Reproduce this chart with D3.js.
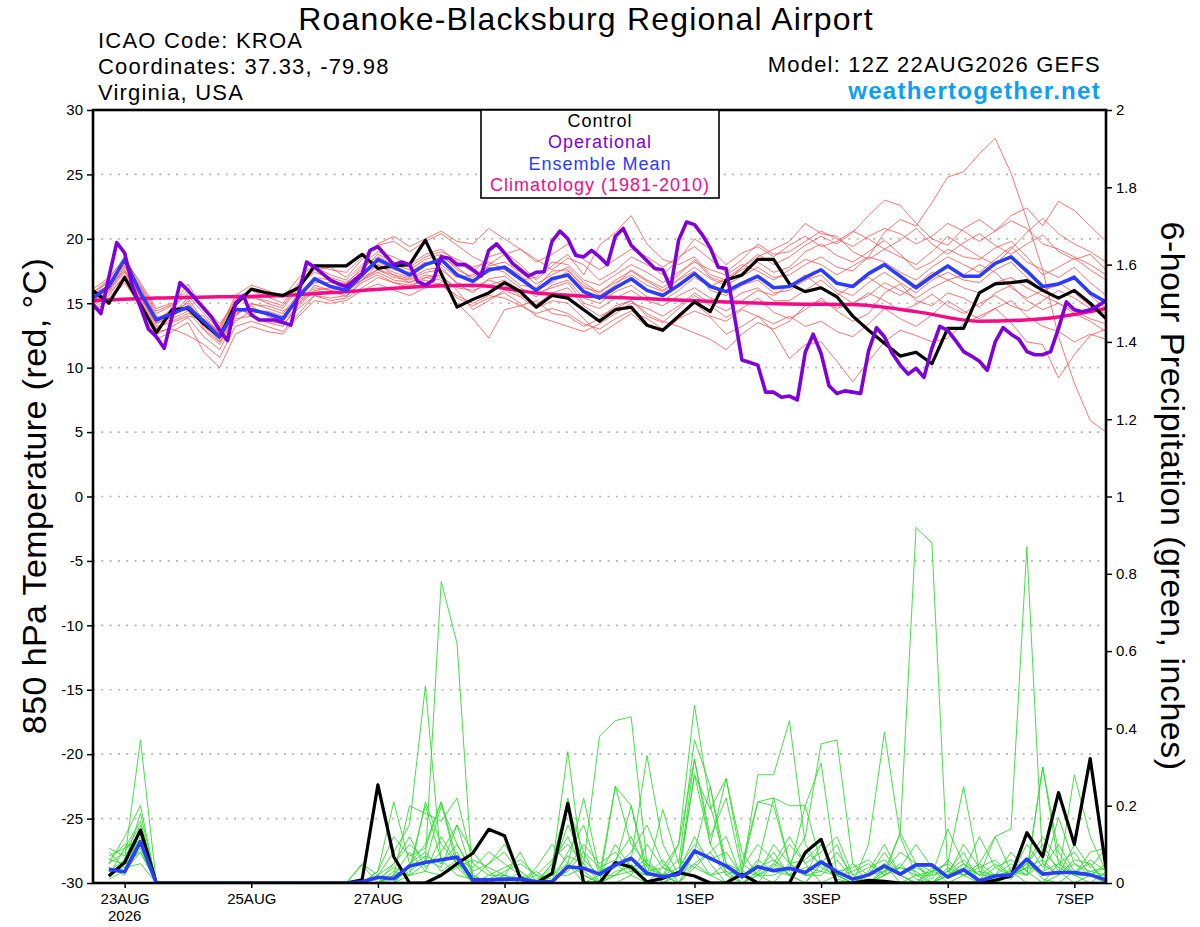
<!DOCTYPE html>
<html>
<head>
<meta charset="utf-8">
<script src="https://cdn.jsdelivr.net/npm/d3@7"></script>
<style>
  body { margin: 0; background: #fff; }
  svg { display: block; }
  text { font-family: "Liberation Sans", Arial, Helvetica, sans-serif; }
</style>
</head>
<body>
<svg id="chart" width="1200" height="927"></svg>
<script>
// ---- data ----
const runStart = Date.UTC(2026, 7, 22, 12);          // 12Z 22AUG2026
const ensHours = d3.range(0, 385, 6);                 // 6-hourly members
const opHours = d3.range(0, 385, 3);                  // 3-hourly operational
const precipHours = d3.range(6, 385, 6);              // 6-h totals
const climHours = d3.range(0, 385, 24);

const tempTicks = [30, 25, 20, 15, 10, 5, 0, -5, -10, -15, -20, -25, -30];
const tempGrid = [25, 20, 15, 10, 5, 0, -5, -10, -15, -20, -25];
const precipTicks = [0, 0.2, 0.4, 0.6, 0.8, 1, 1.2, 1.4, 1.6, 1.8, 2];
const dayTicks = ["2026-08-23", "2026-08-25", "2026-08-27", "2026-08-29",
                  "2026-09-01", "2026-09-03", "2026-09-05", "2026-09-07"];

const legendItems = ["Control", "Operational", "Ensemble Mean", "Climatology (1981-2010)"];

// 850 hPa temperature, control run
const controlTemp = [16.0,15.0,17.0,14.9,12.7,14.5,14.6,13.4,12.4,14.9,16.1,
  15.8,15.6,16.2,17.9,17.9,17.9,18.8,17.7,17.9,18.0,19.9,
  17.3,14.7,15.3,15.8,16.6,15.9,14.7,15.6,15.4,14.5,13.6,
  14.5,14.7,13.3,12.9,14.0,15.1,14.35,16.8,17.2,18.4,18.4,
  16.5,15.9,16.2,15.5,14.0,12.9,11.9,10.9,11.2,10.3,13.05,
  13.05,15.8,16.5,16.6,16.75,16.0,15.4,16.0,15.0,13.8];

// ensemble mean
const meanTemp = [15.4,16.3,18.4,15.8,13.7,14.2,14.7,13.6,12.4,14.5,14.5,
  14.2,13.8,15.5,16.9,16.3,16.0,17.2,18.4,17.8,17.2,18.0,
  18.4,17.2,16.7,17.6,17.8,16.9,16.0,16.9,17.2,15.9,15.4,
  16.2,16.9,16.0,15.6,16.4,17.3,16.3,15.9,16.55,17.1,16.2,
  16.3,17.0,17.6,16.55,16.3,17.3,18.0,17.1,16.2,17.1,17.9,
  17.1,17.1,18.1,18.6,17.5,16.3,16.5,17.0,15.8,15.1];

// operational run (3-hourly)
const opTemp = [14.9,14.2,17.0,19.7,18.9,16.3,14.7,13.0,12.4,11.5,
  14.0,16.6,16.0,15.3,14.6,13.9,12.9,12.1,15.0,15.6,
  14.1,13.7,13.7,13.7,13.5,13.3,15.8,18.2,17.8,17.3,
  16.8,16.5,16.3,16.8,17.3,19.1,19.4,18.7,18.0,18.2,
  18.0,16.7,16.4,16.8,18.6,18.5,18.0,18.0,17.6,17.1,
  19.1,19.6,18.9,18.1,17.6,17.1,17.4,17.45,19.8,20.6,
  20.0,18.7,18.6,19.1,18.6,18.0,20.2,20.8,19.5,18.9,
  18.3,17.7,17.6,16.2,19.9,21.3,21.1,20.3,19.3,17.8,
  17.7,14.2,10.6,10.4,10.2,8.1,8.1,7.7,7.8,7.5,
  11.2,12.6,11.1,8.6,8.0,8.2,8.1,8.0,11.3,13.1,
  12.4,11.1,10.2,9.5,9.95,9.25,11.5,13.2,12.9,12.1,
  11.25,10.9,10.5,9.8,12.0,13.1,12.6,12.2,11.25,11.0,
  11.0,11.25,13.05,15.1,14.5,14.35,14.5,14.8,15.2];

// 1981-2010 climatology (daily)
const climTemp = [15.2,15.4,15.5,15.6,15.9,16.25,16.4,15.8,15.5,15.3,15.1,14.95,14.9,14.35,13.6,13.8,14.6];

// ensemble members, temperature
const tempMembers = [
  [15.6,16.8,18.2,16.0,13.5,13.9,15.2,13.0,12.0,14.0,15.0, 14.6,14.2,15.8,17.0,16.8,16.5,17.8,18.6,18.0,17.6,18.4,
   18.8,17.6,17.0,17.9,18.2,17.4,16.5,17.2,17.8,16.6,15.8, 16.8,17.5,16.7,16.0,16.9,17.8,16.9,16.4,17.1,17.8,17.0,
   17.2,18.0,18.6,17.8,17.5,18.6,20.5,21.5,21.0,22.8,24.8, 25.2,26.6,27.8,25.1,21.5,17.6,12.4,8.8,5.9,5.0],
  [15.0,16.0,17.6,15.5,13.2,13.5,14.0,13.8,12.8,14.8,14.0, 13.5,13.2,15.0,16.4,16.0,15.5,16.8,18.0,17.2,16.9,17.6,
   17.8,16.5,15.8,16.9,17.1,16.2,15.5,16.4,16.8,15.4,15.0, 15.9,16.4,15.5,15.2,16.0,17.0,16.3,16.9,17.8,18.8,18.0,
   18.6,19.5,20.2,19.6,20.5,21.8,23.0,22.6,21.2,20.0,19.5, 20.8,21.5,20.6,21.8,22.4,21.0,22.9,22.2,21.0,19.8],
  [14.8,15.6,17.2,15.2,12.8,13.0,12.5,11.8,10.8,13.2,13.6, 13.2,12.8,14.2,15.6,15.2,15.4,16.2,17.0,16.6,16.2,17.0,
   17.2,16.0,14.5,15.2,16.0,15.5,14.6,15.2,15.0,13.8,12.6, 13.4,14.2,13.2,12.8,13.8,15.0,14.0,13.6,14.5,14.0,12.8,
   10.7,11.8,12.0,10.5,8.9,10.5,12.0,12.9,12.5,12.0,12.3, 13.4,14.0,14.6,13.5,12.0,11.8,9.2,11.0,12.5,13.0],
  [15.9,16.6,18.0,16.3,14.2,14.8,16.5,14.5,13.2,15.3,16.0, 15.5,15.0,16.6,17.8,17.2,16.8,18.0,19.0,18.6,18.0,18.8,
   19.2,18.2,17.4,18.6,19.0,18.0,16.8,17.9,18.8,17.2,19.5, 20.5,21.8,19.6,18.4,18.0,18.6,17.2,16.8,17.6,18.2,17.4,
   17.8,19.0,19.6,18.7,18.2,19.0,19.9,18.8,17.6,18.2,19.2, 18.6,18.4,19.3,19.8,18.6,17.2,17.8,18.5,17.6,16.8],
  [14.6,15.4,16.8,14.6,12.2,12.8,13.5,11.2,10.0,12.6,13.2, 12.8,12.6,14.0,15.2,15.0,15.2,16.0,16.5,16.0,15.6,16.2,
   16.6,15.0,13.8,12.3,14.5,14.8,15.2,14.2,14.0,13.2,13.8, 14.8,15.2,14.0,13.5,14.6,15.6,14.8,13.9,14.6,15.4,14.3,
   13.8,14.5,15.4,14.4,13.6,14.2,15.8,16.5,15.2,14.8,15.8, 15.4,14.7,15.8,16.4,15.2,14.5,15.0,14.2,13.6,12.8],
  [15.3,16.5,18.3,15.9,13.6,14.6,15.8,14.8,13.4,15.0,15.6, 15.0,14.6,16.2,17.6,17.8,17.0,18.4,19.5,19.8,19.0,19.8,
   20.4,19.5,18.6,18.0,18.8,19.2,18.4,17.6,18.5,18.0,16.8, 17.5,18.6,18.0,17.2,18.4,20.0,19.2,18.0,18.9,19.4,18.6,
   19.5,20.2,19.4,19.8,20.6,20.0,19.2,19.9,20.8,19.6,18.8, 19.7,20.4,19.5,18.8,19.6,20.3,19.0,18.4,18.8,17.6],
  [15.1,16.2,17.9,15.5,13.4,14.0,14.8,13.2,12.2,14.2,14.8, 14.0,13.6,15.4,16.8,16.4,15.8,17.0,17.6,17.0,16.8,17.4,
   17.6,16.6,16.2,16.8,16.4,15.6,14.9,15.8,16.2,14.8,14.0, 14.6,15.2,14.2,13.6,13.2,12.7,12.2,11.4,12.6,13.5,13.0,
   13.6,14.8,15.2,14.6,15.0,15.8,15.2,14.4,14.9,15.7,14.8, 14.2,15.0,15.6,14.8,14.4,15.2,16.0,15.4,14.6,14.0],
  [15.5,16.0,17.8,16.2,14.0,13.6,14.2,14.0,12.6,14.6,14.2, 14.4,14.0,15.6,16.6,16.6,16.4,17.4,18.2,17.6,17.4,18.2,
   18.0,17.0,17.2,17.8,17.4,16.4,16.2,17.5,17.6,16.2,15.9, 16.6,17.2,16.4,15.9,16.8,17.5,16.0,15.6,16.4,16.8,15.8,
   16.0,16.8,17.2,16.0,15.6,16.6,17.4,16.6,15.8,16.8,17.4, 16.8,16.6,17.6,18.2,17.0,16.0,16.4,17.2,15.6,14.6],
  [15.7,16.4,17.5,15.6,13.8,14.4,15.0,13.6,12.8,14.4,14.6, 14.2,13.9,15.2,16.2,16.0,16.2,17.2,18.0,17.4,17.0,18.0,
   18.6,17.8,16.8,17.4,17.9,17.2,16.0,16.6,17.5,16.4,15.6, 16.4,17.6,16.8,16.2,17.2,18.4,17.0,16.6,17.8,18.6,19.2,
   19.8,21.2,20.4,20.2,19.0,18.4,19.2,18.6,18.0,19.0,20.2, 19.4,18.6,18.0,19.2,20.5,21.6,20.4,19.6,19.0,18.2],
  [14.4,15.2,16.6,14.8,12.6,13.2,13.9,12.4,11.4,13.8,14.0, 13.6,13.4,14.6,15.6,15.4,15.6,16.6,17.2,16.6,16.4,16.8,
   16.4,15.6,15.0,15.6,15.4,14.8,14.2,14.6,14.2,13.4,13.0, 13.8,14.4,13.8,13.0,13.8,14.4,13.9,12.6,13.2,14.0,13.4,
   14.0,13.2,13.6,12.8,12.4,13.4,14.6,13.8,13.2,14.1,15.2, 14.4,13.8,14.6,15.2,14.0,13.2,12.8,12.0,12.6,12.2],
  [15.8,16.9,18.6,16.4,14.4,14.9,15.6,14.2,12.9,15.2,15.4, 15.2,14.8,16.4,17.4,17.0,16.6,17.6,18.8,18.2,17.8,18.6,
   19.0,18.4,17.8,18.2,17.6,16.8,17.0,18.2,18.0,16.8,16.4, 17.2,18.0,17.4,16.6,17.4,18.2,17.6,17.2,18.0,17.5,16.8,
   17.6,18.4,18.0,17.2,17.9,18.6,18.2,17.4,16.8,17.8,18.6, 18.0,17.4,18.4,19.4,18.2,17.6,17.0,17.8,16.6,15.6],
  [15.2,15.9,17.4,15.3,13.0,13.8,14.4,12.9,11.8,14.1,14.9, 14.8,14.4,15.0,16.0,15.8,15.9,16.8,17.6,17.2,16.6,17.2,
   17.0,16.2,16.0,16.4,16.8,16.0,15.8,16.2,16.6,15.0,14.6, 15.4,16.0,15.2,14.8,15.6,16.2,15.4,15.0,15.8,16.2,15.2,
   15.2,16.0,16.8,15.8,15.0,15.6,16.6,16.0,15.4,16.2,16.8, 16.2,15.8,16.6,17.0,16.2,15.6,15.0,14.4,13.8,13.4],
  [16.1,17.0,18.4,16.6,14.6,15.0,16.0,14.6,13.0,15.6,16.4, 16.0,15.4,17.0,18.0,17.6,17.4,18.6,19.6,20.2,19.4,20.0,
   20.6,19.8,19.6,20.8,20.0,19.2,18.2,18.8,19.6,18.4,17.6, 18.4,19.2,18.6,17.8,18.6,19.4,18.4,17.4,18.4,19.6,18.8,
   19.0,19.8,20.6,20.0,19.4,20.2,20.8,20.4,19.6,20.2,21.2, 20.6,19.8,20.6,21.4,20.8,19.6,19.2,18.6,18.0,17.2],
  [14.9,15.8,17.0,15.0,13.0,14.2,15.4,13.6,12.0,13.6,14.4, 14.2,13.6,14.8,16.0,16.2,16.0,16.8,17.4,16.8,16.6,17.0,
   16.8,15.4,14.8,15.4,15.8,15.0,14.0,13.6,13.2,12.8,13.4, 14.2,15.0,14.6,14.0,14.8,15.8,15.0,14.4,15.2,16.0,15.6,
   16.4,17.2,16.2,15.6,16.4,17.0,16.2,15.6,16.4,17.4,16.8, 17.2,18.0,17.4,16.2,15.4,16.0,16.6,15.8,14.8,14.2]
];

// 6-hour precipitation (inches), control and ensemble mean
const controlPrecip = [.018,.053,.137,0,0,0,0,0, 0,0,0,0,0,0,0,0,
  .008,.254,.068,0,0,.02,.05,.077, .139,.122,.012,0,.025,.206,0,0,
  .053,.041,.003,.012,.027,.018,0,0, .023,0,0,0,.079,.113,0,0,
  .007,.004,0,0,0,0,0,0, .007,.018,.13,.068,.234,.10,.322,.038];

const meanPrecip = [.035,.029,.107,0,0,0,0,0, 0,0,0,0,0,0,0,0,
  .003,.015,.011,.044,.053,.06,.067,.008, .008,.01,.01,.003,.003,.042,.038,.023,
  .047,.064,.025,.016,.023,.083,.064,.044, .016,.042,.032,.038,.027,.055,.029,.01,
  .021,.044,.023,.047,.047,.015,.034,.006, .018,.021,.062,.023,.027,.027,.021,.008];

// ensemble members, precipitation
const precipMembers = [
  [.05,.08,.15,0,0,0,0,0, 0,0,0,0,0,0,0,0, 0,0,.01,.03,.06,.78,.62,0, 0,.02,0,0,.05,.12,.03,0,
   .02,.05,0,0,.03,.12,.05,0, 0,.03,.08,.02,0,.05,.10,0, 0,.04,.02,0,0,.03,.08,0, 0,.02,.06,.01,0,.03,.05,0],
  [.03,.06,.37,0,0,0,0,0, 0,0,0,0,0,0,0,0, .05,.02,.08,.15,.51,.05,.10,.02, 0,0,.03,0,0,.20,.08,0,
   0,.02,.10,.04,.02,.28,.10,.03, 0,0,.05,.12,.05,0,.02,0, .03,.10,.02,0,.04,0,.02,.05, .12,.03,0,0,.02,.05,.02,0],
  [.08,.04,.12,0,0,0,0,0, 0,0,0,0,0,0,0,0, 0,.03,.21,.05,.10,.21,.06,0, 0,0,0,.02,.06,.10,.05,.38,
   .42,.43,.05,.02,0,.08,.02,0, .05,.21,.22,.05,.02,.10,.02,0, 0,.02,.13,.05,0,.02,.05,0, 0,.04,.02,.30,.08,.02,0,.03],
  [.02,.05,.18,0,0,0,0,0, 0,0,0,0,0,0,0,0, 0,0,0,.04,.20,.06,.02,.01, .05,.08,.02,0,0,.05,.02,0,
   .05,.02,0,.04,.10,.46,.20,.05, 0,.02,.05,.02,.08,.05,.01,0, .10,.39,.12,.02,0,.04,.02,0, .02,.08,.03,0,.05,.08,.02,0],
  [.06,.10,.10,0,0,0,0,0, 0,0,0,0,0,0,0,0, 0,0,.05,.12,.04,.08,.15,.02, 0,0,0,.04,.10,.05,0,.02,
   .10,.04,.06,.02,0,.04,.08,.02, .04,.10,.06,.02,0,.05,.03,.01, 0,.03,.13,.92,.88,.03,.02,.05, .02,.01,.05,.10,.03,0,.02,.04],
  [.04,.03,.08,0,0,0,0,0, 0,0,0,0,0,0,0,0, 0,0,.02,.08,.03,.12,.05,0, 0,0,0,.03,0,.08,.15,.02,
   .25,.10,.05,0,.02,.32,.10,.27, .08,.02,0,.05,.02,.02,.06,.01, .02,.05,0,.02,.02,.14,.05,.02, .12,.14,.87,.05,.02,.06,.05,0],
  [.07,.09,.16,0,0,0,0,0, 0,0,0,0,0,0,0,0, .047,0,.02,.20,.18,.16,.22,.05, .02,.02,.08,0,.02,.05,.22,.03,
   .05,.20,.02,.06,0,.05,.02,.03, .02,.28,.28,.42,.10,.04,.02,0, .02,.08,.02,0,.03,.05,.25,.03, 0,.02,.05,.02,.17,.05,.03,.02],
  [.01,.03,.09,0,0,0,0,0, 0,0,0,0,0,0,0,0, 0,.02,.05,.10,.06,.04,.15,.08, .03,0,0,0,.04,.34,.02,0,
   .02,.06,.33,.10,.02,.08,.25,.02, 0,.02,.10,.05,.12,.36,.37,.05, 0,.02,.05,.01,0,.02,.04,.01, .04,.06,.03,.30,.05,.02,.08,.09],
  [.05,.12,.20,0,0,0,0,0, 0,0,0,0,0,0,0,0, 0,.03,.12,.07,.09,.21,.04,0, .02,.04,.06,.02,0,.04,.10,.05,
   .08,.03,.02,.19,.05,.37,.25,.05, .02,.05,.22,.20,.20,.31,.02,0, .02,.05,.02,.04,.02,.03,.06,.02, .02,.03,.02,.05,.02,.28,.12,.03],
  [.03,.04,.05,0,0,0,0,0, 0,0,0,0,0,0,0,0, 0,0,.03,.02,.21,.10,.05,.02, 0,.02,0,.01,.02,.07,.05,0,
   .25,.20,.04,.02,.10,.32,.12,.22, .03,.21,.20,.05,.06,.10,.02,.03, .05,.02,.04,.03,0,.02,.10,.04, .01,.02,.04,.06,.02,.10,.04,.09],
  [.09,.07,.13,0,0,0,0,0, 0,0,0,0,0,0,0,0, 0,0,0,.05,.08,.03,.06,.04, .08,.05,.02,0,.03,.15,.06,.02,
   .04,.08,.15,.05,.02,.28,.19,.27, .05,.02,.04,.10,.05,.08,.12,.02, 0,.03,.08,.05,.03,.02,.03,.12, .04,.02,.05,.12,.06,.02,.02,.05],
  [.02,.09,.11,0,0,0,0,0, 0,0,0,0,0,0,0,0, 0,.01,.04,.02,.05,.20,.10,.03, .05,.10,.03,0,.05,.22,.02,0,
   .03,.04,.02,.02,.04,.10,.06,.08, .02,.04,.06,.03,.20,.05,.03,.04, .06,.02,.04,.10,.04,.02,.05,.02, .05,.02,.10,.04,.10,.03,.02,.02],
  [.04,.02,.14,0,0,0,0,0, 0,0,0,0,0,0,0,0, 0,0,.02,.04,.07,.05,.08,.01, .01,.03,.05,.02,.01,.03,.08,.04,
   .06,.12,.03,.04,.02,.05,.08,.12, .01,.06,.03,.02,.04,.03,.08,.02, .04,.06,.02,.05,.01,.06,.02,.03, .02,.05,.02,.08,.04,.02,.06,.03],
  [.06,.05,.08,0,0,0,0,0, 0,0,0,0,0,0,0,0, 0,0,0,.02,.03,.02,.04,.06, .04,.02,.01,0,.02,.02,.04,.02,
   .02,.03,.05,.02,.06,.04,.02,.05, .03,.02,.02,.04,.02,.03,.02,.05, .02,.03,.04,.02,.03,.05,.02,.04, .06,.02,.04,.03,.05,.02,.03,.04]
];

// ---- layout ----
const plot = { left: 93, right: 1106, top: 110, bottom: 883 };
const colors = {
  member: "#ff4848", precip: "#2edc2e", control: "#000000",
  operational: "#8000dc", mean: "#2a3cff", clim: "#f50a87", grid: "#b4b4b4"
};
const legendColors = [colors.control, colors.operational, colors.mean, colors.clim];

const hourToDate = h => new Date(runStart + h * 3600 * 1000);
const parseDay = d3.utcParse("%Y-%m-%d");
const dayLabel = d3.utcFormat("%-d%b");

const x = d3.scaleUtc()
  .domain([hourToDate(0), hourToDate(384)])
  .range([plot.left, plot.right]);
const yT = d3.scaleLinear().domain([-30, 30]).range([plot.bottom, plot.top]);
const yP = d3.scaleLinear().domain([0, 2]).range([plot.bottom, plot.top]);

const svg = d3.select("#chart");

svg.append("defs").append("clipPath").attr("id", "plotClip")
  .append("rect")
  .attr("x", plot.left).attr("y", plot.top)
  .attr("width", plot.right - plot.left).attr("height", plot.bottom - plot.top);

// dotted grid
svg.append("g").selectAll("line").data(tempGrid).join("line")
  .attr("x1", plot.left).attr("x2", plot.right)
  .attr("y1", d => yT(d)).attr("y2", d => yT(d))
  .attr("stroke", colors.grid).attr("stroke-width", 1.6)
  .attr("stroke-dasharray", "2,6.3");

const lineFor = (hours, scale) => d3.line()
  .x((d, i) => x(hourToDate(hours[i])))
  .y(d => scale(d));

const lines = svg.append("g").attr("clip-path", "url(#plotClip)");

// spaghetti
lines.append("g").selectAll("path").data(tempMembers).join("path")
  .attr("d", lineFor(ensHours, yT))
  .attr("fill", "none").attr("stroke", colors.member)
  .attr("stroke-width", 0.9).attr("stroke-opacity", 0.85);

lines.append("g").selectAll("path").data(precipMembers).join("path")
  .attr("d", lineFor(precipHours, yP))
  .attr("fill", "none").attr("stroke", colors.precip)
  .attr("stroke-width", 0.9);

// climatology
lines.append("path").datum(climTemp)
  .attr("d", lineFor(climHours, yT).curve(d3.curveMonotoneX))
  .attr("fill", "none").attr("stroke", colors.clim).attr("stroke-width", 3.5);

// control
lines.append("path").datum(controlTemp)
  .attr("d", lineFor(ensHours, yT))
  .attr("fill", "none").attr("stroke", colors.control).attr("stroke-width", 3.2)
  .attr("stroke-linejoin", "round");
lines.append("path").datum(controlPrecip)
  .attr("d", lineFor(precipHours, yP))
  .attr("fill", "none").attr("stroke", colors.control).attr("stroke-width", 3.2)
  .attr("stroke-linejoin", "round");

// ensemble mean
lines.append("path").datum(meanTemp)
  .attr("d", lineFor(ensHours, yT))
  .attr("fill", "none").attr("stroke", colors.mean).attr("stroke-width", 3.6)
  .attr("stroke-linejoin", "round");
lines.append("path").datum(meanPrecip)
  .attr("d", lineFor(precipHours, yP))
  .attr("fill", "none").attr("stroke", colors.mean).attr("stroke-width", 3.6)
  .attr("stroke-linejoin", "round");

// operational
lines.append("path").datum(opTemp)
  .attr("d", lineFor(opHours, yT))
  .attr("fill", "none").attr("stroke", colors.operational).attr("stroke-width", 3.6)
  .attr("stroke-linejoin", "round");

// ---- axes ----
const styleAxis = g => {
  g.select(".domain").remove();
  g.selectAll(".tick line").attr("stroke", "#000").attr("stroke-width", 1.5);
  g.selectAll(".tick text").attr("fill", "#000").style("font-size", "15px");
};

svg.append("g")
  .attr("transform", `translate(${plot.left},0)`)
  .call(d3.axisLeft(yT).tickValues(tempTicks).tickSize(6).tickPadding(4)
    .tickFormat(d => String(d)))
  .call(styleAxis);

svg.append("g")
  .attr("transform", `translate(${plot.right},0)`)
  .call(d3.axisRight(yP).tickValues(precipTicks).tickSize(6).tickPadding(4)
    .tickFormat(d => String(d)))
  .call(styleAxis);

const xAxis = svg.append("g")
  .attr("transform", `translate(0,${plot.bottom})`)
  .call(d3.axisBottom(x).tickValues(dayTicks.map(parseDay)).tickSize(5).tickPadding(5)
    .tickFormat(d => dayLabel(d).toUpperCase()))
  .call(styleAxis);

svg.append("text")
  .attr("x", x(parseDay(dayTicks[0]))).attr("y", 921)
  .attr("text-anchor", "middle").style("font-size", "15px")
  .text("2026");

// frame
svg.append("rect")
  .attr("x", plot.left).attr("y", plot.top)
  .attr("width", plot.right - plot.left).attr("height", plot.bottom - plot.top)
  .attr("fill", "none").attr("stroke", "#000").attr("stroke-width", 2.6);

// ---- legend ----
const legend = svg.append("g");
legend.append("rect")
  .attr("x", 481).attr("y", plot.top).attr("width", 238).attr("height", 88)
  .attr("fill", "#fff").attr("stroke", "#000").attr("stroke-width", 1.6);
legend.selectAll("text").data(legendItems).join("text")
  .attr("x", 600).attr("y", (d, i) => 127 + i * 21.3)
  .attr("text-anchor", "middle")
  .attr("fill", (d, i) => legendColors[i])
  .style("font-size", "18px").style("letter-spacing", "1px")
  .text(d => d);

// ---- titles ----
svg.append("text")
  .attr("x", 586).attr("y", 30).attr("text-anchor", "middle")
  .style("font-size", "32px").style("letter-spacing", "1.2px")
  .text("Roanoke-Blacksburg Regional Airport");

const infoLeft = ["ICAO Code: KROA", "Coordinates: 37.33, -79.98", "Virginia, USA"];
svg.append("g").selectAll("text").data(infoLeft).join("text")
  .attr("x", 98).attr("y", (d, i) => 48 + i * 26)
  .style("font-size", "22px").style("letter-spacing", "1.2px")
  .text(d => d);

svg.append("text")
  .attr("x", 1101).attr("y", 72).attr("text-anchor", "end")
  .style("font-size", "22px").style("letter-spacing", "1.2px")
  .text("Model: 12Z 22AUG2026 GEFS");

svg.append("text")
  .attr("x", 1101).attr("y", 99).attr("text-anchor", "end")
  .attr("fill", "#0aa0f5").style("font-weight", "bold")
  .style("font-size", "24px").style("letter-spacing", "1.3px")
  .text("weathertogether.net");

svg.append("text")
  .attr("transform", "translate(46,496) rotate(-90)")
  .attr("text-anchor", "middle")
  .style("font-size", "34px").style("letter-spacing", "0.4px")
  .text("850 hPa Temperature (red, °C)");

svg.append("text")
  .attr("transform", "translate(1161,496) rotate(90)")
  .attr("text-anchor", "middle")
  .style("font-size", "34px").style("letter-spacing", "0.5px")
  .text("6-hour Precipitation (green, inches)");
</script>
</body>
</html>
